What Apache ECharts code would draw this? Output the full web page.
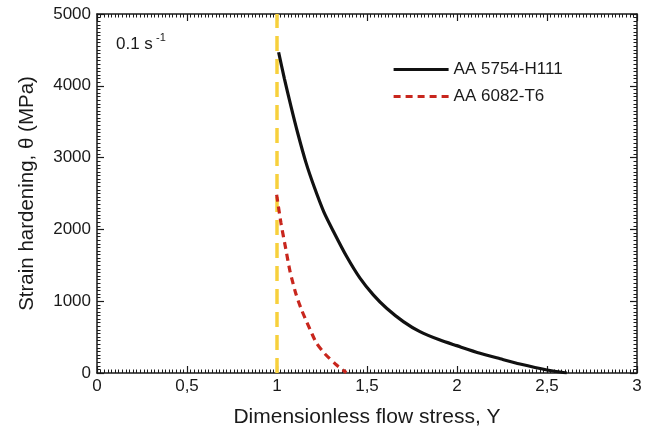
<!DOCTYPE html>
<html>
<head>
<meta charset="utf-8">
<style>
  html, body { margin: 0; padding: 0; background: #fff; }
  #chart { width: 656px; height: 434px; }
</style>
<script src="https://cdn.jsdelivr.net/npm/echarts@6/dist/echarts.min.js"></script>
</head>
<body>
<div id="chart"></div>
<script>
// Strain hardening θ versus dimensionless flow stress Y at 0.1 s^-1
const seriesNames = ['AA 5754-H111', 'AA 6082-T6'];

// [Y, θ (MPa)] for AA 5754-H111
const aa5754 = [
  [1.009, 4467], [1.041, 4100], [1.078, 3710], [1.115, 3343], [1.161, 2930],
  [1.207, 2590], [1.26, 2245], [1.313, 1975], [1.387, 1622], [1.461, 1321],
  [1.535, 1088], [1.609, 902], [1.702, 716], [1.794, 576], [1.906, 458],
  [1.998, 381], [2.128, 275], [2.24, 198], [2.35, 125], [2.5, 42], [2.61, 0]
];

// [Y, θ (MPa)] for AA 6082-T6
const aa6082 = [
  [0.998, 2483], [1.022, 2088], [1.048, 1739], [1.072, 1420], [1.104, 1111],
  [1.133, 902], [1.156, 763], [1.189, 576], [1.22, 414], [1.267, 265],
  [1.331, 112], [1.385, 5]
];

// Reference line at Y = 1
const unitLine = [[1, 0], [1, 5000]];

const xTicks = [0, 0.5, 1, 1.5, 2, 2.5, 3];
const yTicks = [0, 1000, 2000, 3000, 4000, 5000];

const FONT = 'Liberation Sans, Arial, Helvetica, sans-serif';
const INK = '#1a1a1a';

const chart = echarts.init(document.getElementById('chart'), null, { renderer: 'canvas' });

const fmtX = v => String(v).replace('.', ',');
const fmtY = v => String(v);

const baseX = {
  type: 'value',
  min: xTicks[0],
  max: xTicks[xTicks.length - 1],
  interval: 0.5,
  axisLine: { show: true, onZero: false, lineStyle: { color: INK, width: 1.5 } },
  axisTick: { show: true, inside: true, length: 7, lineStyle: { color: INK, width: 1.2 } },
  minorTick: { show: true, splitNumber: 25, length: 3.5, lineStyle: { color: INK, width: 1 } },
  splitLine: { show: false },
  minorSplitLine: { show: false }
};

const baseY = {
  type: 'value',
  min: yTicks[0],
  max: yTicks[yTicks.length - 1],
  interval: 1000,
  axisLine: { show: true, onZero: false, lineStyle: { color: INK, width: 1.5 } },
  axisTick: { show: true, inside: true, length: 7, lineStyle: { color: INK, width: 1.2 } },
  minorTick: { show: true, splitNumber: 20, length: 3.5, lineStyle: { color: INK, width: 1 } },
  splitLine: { show: false },
  minorSplitLine: { show: false }
};

chart.setOption({
  animation: false,
  backgroundColor: '#ffffff',
  textStyle: { fontFamily: FONT },
  grid: { left: 97, right: 19, top: 14, bottom: 61, containLabel: false },
  xAxis: [
    Object.assign({}, baseX, {
      position: 'bottom',
      name: 'Dimensionless flow stress, Y',
      nameLocation: 'middle',
      nameGap: 34,
      nameTextStyle: { fontSize: 21, color: INK, fontFamily: FONT },
      axisLabel: { show: true, margin: 5, fontSize: 17, color: INK, fontFamily: FONT, formatter: fmtX }
    }),
    Object.assign({}, baseX, { position: 'top', axisLabel: { show: false } })
  ],
  yAxis: [
    Object.assign({}, baseY, {
      position: 'left',
      name: 'Strain hardening, θ (MPa)',
      nameLocation: 'middle',
      nameGap: 59,
      nameTextStyle: { fontSize: 20.5, color: INK, fontFamily: FONT },
      axisLabel: { show: true, margin: 6, fontSize: 17, color: INK, fontFamily: FONT, formatter: fmtY }
    }),
    Object.assign({}, baseY, { position: 'right', axisLabel: { show: false } })
  ],
  legend: {
    data: seriesNames,
    orient: 'vertical',
    left: 392,
    top: 61,
    itemWidth: 55,
    itemHeight: 14,
    itemGap: 10,
    padding: 0,
    itemStyle: { opacity: 0, borderWidth: 0 },
    lineStyle: { width: 3.2 },
    textStyle: { fontSize: 17, color: INK, fontFamily: FONT }
  },
  graphic: [
    { type: 'text', left: 116, top: 36, style: { text: '0.1 s', fontSize: 17, fill: INK, fontFamily: FONT } },
    { type: 'text', left: 156, top: 32, style: { text: '-1', fontSize: 11, fill: INK, fontFamily: FONT } }
  ],
  series: [
    {
      name: 'Y = 1',
      type: 'line',
      data: unitLine,
      symbol: 'none',
      silent: true,
      z: 1,
      lineStyle: { color: '#f7d03c', width: 3.5, type: [15, 8] }
    },
    {
      name: seriesNames[0],
      type: 'line',
      data: aa5754,
      symbol: 'none',
      smooth: 0.25,
      z: 3,
      lineStyle: { color: '#111111', width: 3.2 },
      itemStyle: { color: '#111111' }
    },
    {
      name: seriesNames[1],
      type: 'line',
      data: aa6082,
      symbol: 'none',
      smooth: 0.25,
      z: 2,
      lineStyle: { color: '#c8261d', width: 3.2, type: [7, 5] },
      itemStyle: { color: '#c8261d' }
    }
  ]
});
</script>
</body>
</html>
